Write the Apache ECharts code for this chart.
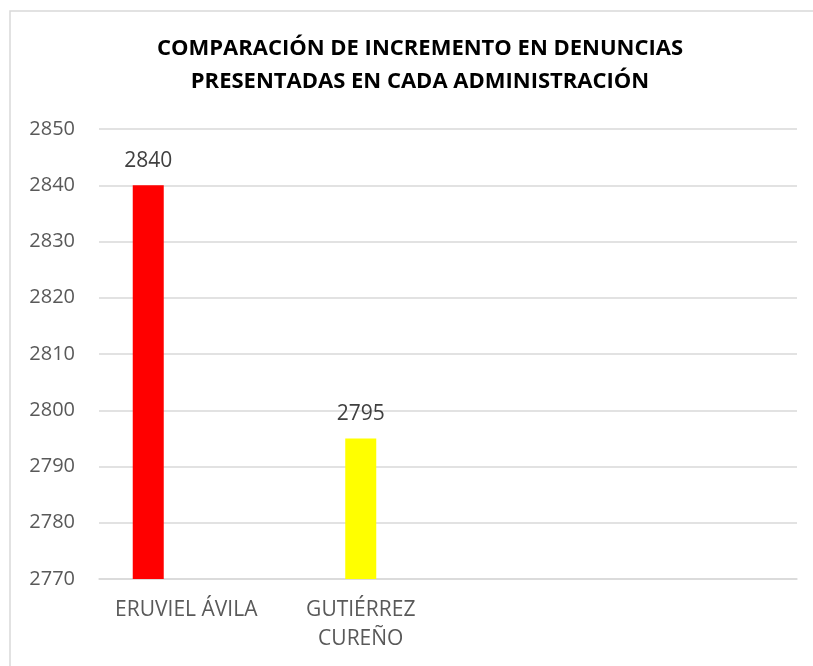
<!DOCTYPE html>
<html>
<head>
<meta charset="utf-8">
<script src="https://cdn.jsdelivr.net/npm/echarts@6/dist/echarts.min.js"></script>
<style>
  html, body { margin: 0; padding: 0; background: #fff; }
  #main { width: 813px; height: 666px; }
</style>
</head>
<body>
<div id="main"></div>
<script>
	// datos
	var categorias = ['ERUVIEL ÁVILA', 'GUTIÉRREZ\nCUREÑO', '', ''];
	var serieEruviel = [2840, '-', '-', '-'];
	var serieGutierrez = ['-', 2795, '-', '-'];
	var serieVacia = ['-', '-', '-', '-'];
	var ejeMin = 2770, ejeMax = 2850, ejePaso = 10;

	var myChart = echarts.init(document.getElementById('main'));

	var etiqueta = {
		show: true,
		position: 'top',
		distance: 14,
		color: '#404040',
		fontSize: 21,
		fontFamily: 'Open Sans'
	};

	option = {
		animation: false,
		title: {
			text: 'COMPARACIÓN DE INCREMENTO EN DENUNCIAS\nPRESENTADAS EN CADA ADMINISTRACIÓN',
			left: 415,
			textAlign: 'center',
			top: 27,
			textStyle: {
				fontFamily: 'Open Sans',
				fontWeight: 'bold',
				fontSize: 22,
				lineHeight: 33,
				color: '#000'
			}
		},
		graphic: [{
			type: 'rect',
			shape: { x: 10, y: 11, width: 830, height: 700 },
			style: { fill: 'none', stroke: '#d9d9d9', lineWidth: 1.5 },
			silent: true
		}],
		grid: { left: 99, right: 16, top: 129, bottom: 87, containLabel: false },
		xAxis: {
			type: 'category',
			data: categorias,
			axisLine: { show: true, lineStyle: { color: '#d9d9d9', width: 1.5 } },
			axisTick: { show: false },
			axisLabel: {
				color: '#595959',
				fontSize: 21,
				lineHeight: 29,
				margin: 17,
				fontFamily: 'Open Sans',
				interval: 0
			}
		},
		yAxis: {
			type: 'value',
			min: ejeMin,
			max: ejeMax,
			interval: ejePaso,
			axisLine: { show: false },
			axisTick: { show: false },
			axisLabel: {
				color: '#595959',
				fontSize: 20,
				margin: 24,
				fontFamily: 'Open Sans',
				formatter: function (v) { return String(v); }
			},
			splitLine: { lineStyle: { color: '#d9d9d9', width: 1.5 } }
		},
		series: [
			{
				name: 'Eruviel Ávila',
				type: 'bar',
				data: serieEruviel,
				barWidth: 31,
				barGap: '22.6%',
				itemStyle: { color: '#FF0000' },
				label: etiqueta
			},
			{
				name: 'Gutiérrez Cureño',
				type: 'bar',
				data: serieGutierrez,
				barWidth: 31,
				barGap: '22.6%',
				itemStyle: { color: '#FFFF00' },
				label: etiqueta
			},
			{
				name: 'vacia',
				type: 'bar',
				data: serieVacia,
				barWidth: 31,
				barGap: '22.6%'
			}
		]
	};

	myChart.setOption(option);
</script>
</body>
</html>
